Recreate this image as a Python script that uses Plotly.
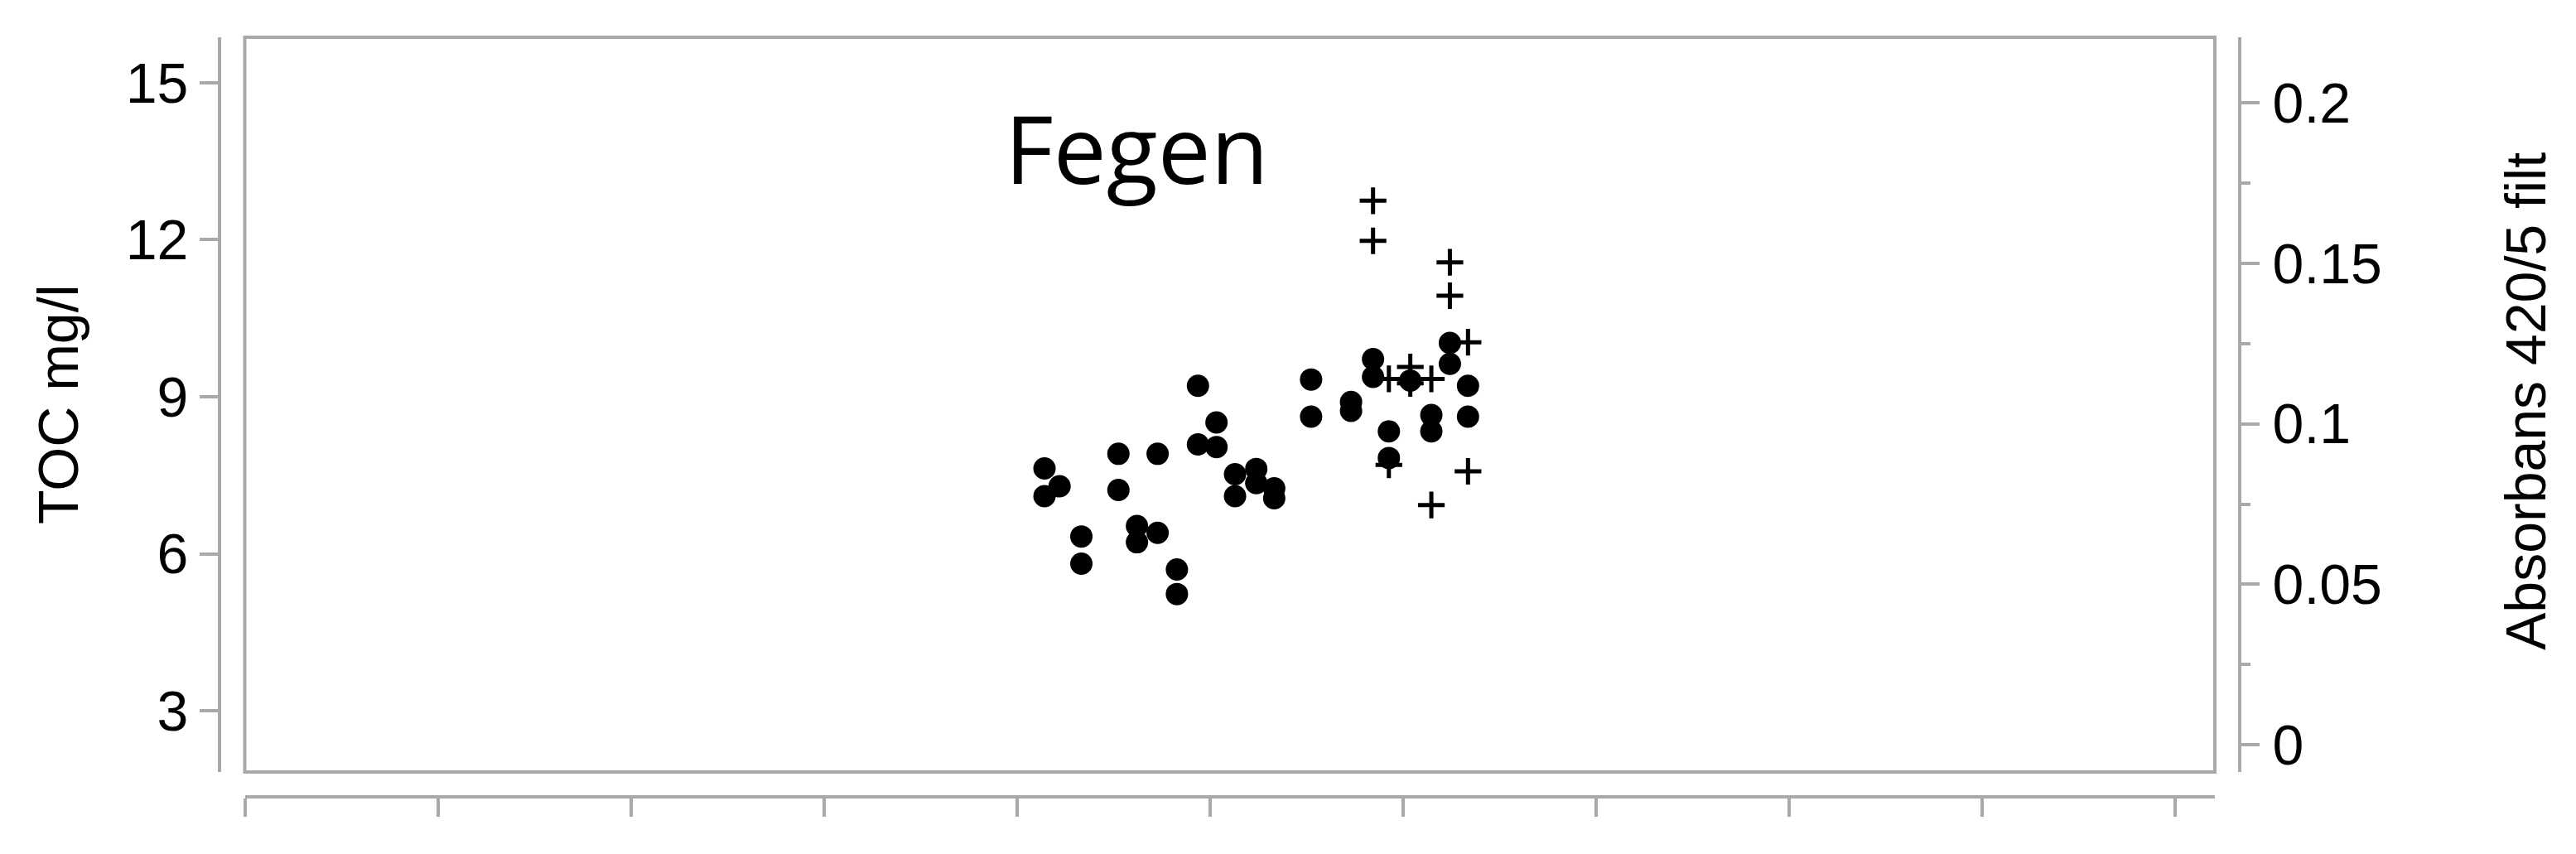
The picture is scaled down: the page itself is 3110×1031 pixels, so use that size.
import plotly.graph_objects as go

# sample positions on the (unlabelled) time axis, one unit per tick
toc_x = [4.143, 4.221, 4.143, 4.334, 4.334, 4.526, 4.526, 4.622, 4.622, 4.729,
         4.729, 4.829, 4.829, 4.938, 4.938, 5.034, 5.034, 5.130, 5.130, 5.240,
         5.240, 5.333, 5.333, 5.524, 5.524, 5.731, 5.731, 5.845, 5.845, 5.927,
         5.927, 6.038, 6.147, 6.147, 6.243, 6.243, 6.337, 6.337]
toc = [7.63, 7.29, 7.10, 6.33, 5.81, 7.91, 7.22, 6.53, 6.22, 6.40,
       7.91, 5.70, 5.23, 9.21, 8.09, 8.51, 8.04, 7.52, 7.10, 7.62,
       7.35, 7.25, 7.06, 9.33, 8.62, 8.90, 8.73, 9.72, 9.38, 8.34,
       7.83, 9.31, 8.65, 8.34, 10.03, 9.63, 9.21, 8.62]

abs_x = [5.845, 5.845, 5.927, 5.927, 6.038, 6.038, 6.147, 6.147, 6.243, 6.243,
         6.337, 6.337]
absorbans = [0.1695, 0.1570, 0.1140, 0.0872, 0.1177, 0.1126, 0.1140, 0.0747,
             0.1503, 0.1399, 0.1254, 0.0852]

toc_ticks = [3, 6, 9, 12, 15]
station = "Fegen"

GRAY = "#a9a9a9"
FONT = dict(family="Liberation Sans, Arial", size=68, color="black")

# paper spans x 265..2704 px, y 45..962 px
PW, PH = 2439, 917

fig = go.Figure()
fig.add_trace(go.Scatter(
    x=toc_x, y=toc, mode="markers", name="TOC mg/l",
    marker=dict(symbol="circle", size=27, color="black"),
))
fig.add_trace(go.Scatter(
    x=abs_x, y=absorbans, mode="markers", name="Absorbans 420/5 filt",
    yaxis="y2",
    marker=dict(symbol="cross-thin", size=23, color="black",
                line=dict(width=5, color="black")),
))

fig.update_layout(
    width=3110, height=1031,
    margin=dict(l=265, r=406, t=45, b=69),
    paper_bgcolor="white", plot_bgcolor="white",
    showlegend=False,
    font=FONT,
    xaxis=dict(
        domain=[30.5 / PW, 2409 / PW], range=[0, 10.206],
        anchor="free", position=0,
        tick0=0, dtick=1, ticks="outside", ticklen=22, tickwidth=4,
        tickcolor=GRAY, showticklabels=False,
        showline=True, linecolor=GRAY, linewidth=4,
        showgrid=False, zeroline=False,
    ),
    yaxis=dict(
        domain=[30 / PH, 1], range=[1.829, 15.87],
        anchor="free", position=0, side="left",
        tickvals=toc_ticks, ticks="outside", ticklen=22, tickwidth=4,
        tickcolor=GRAY, ticklabelstandoff=0,
        showline=True, linecolor=GRAY, linewidth=4,
        showgrid=False, zeroline=False, tickfont=FONT,
    ),
    yaxis2=dict(
        overlaying="y", anchor="free", position=1, side="right",
        range=[-0.00845, 0.2204], tick0=0, dtick=0.05,
        ticks="outside", ticklen=22, tickwidth=4, tickcolor=GRAY,
        ticklabelstandoff=2,
        minor=dict(dtick=0.025, ticks="outside", ticklen=11, tickwidth=4,
                   tickcolor=GRAY, showgrid=False),
        showline=True, linecolor=GRAY, linewidth=4,
        showgrid=False, zeroline=False, tickfont=FONT,
    ),
)

# plot frame
fig.add_shape(type="rect", xref="x domain", yref="y domain",
              x0=0, x1=1, y0=0, y1=1, line=dict(color=GRAY, width=4))

# station name inside the plot
fig.add_annotation(x=4.622, y=(962 - 177) / PH, xref="x", yref="paper",
                   text=station, showarrow=False, xanchor="center", yanchor="middle",
                   font=dict(family="Open Sans", size=114, color="black"))

# axis titles
fig.add_annotation(x=(70 - 265) / PW, y=(962 - 488) / PH, xref="paper", yref="paper",
                   text="TOC mg/l", textangle=-90, showarrow=False,
                   xanchor="center", yanchor="middle", font=FONT)
fig.add_annotation(x=(3049 - 265) / PW, y=(962 - 485) / PH, xref="paper", yref="paper",
                   text="Absorbans 420/5 filt", textangle=-90, showarrow=False,
                   xanchor="center", yanchor="middle", font=FONT)

# drop the browser's default 8px body margin so the chart sits at the page origin
fig.write_html("out.html", config={"displayModeBar": False},
               post_script="document.body.style.margin = '0';")
